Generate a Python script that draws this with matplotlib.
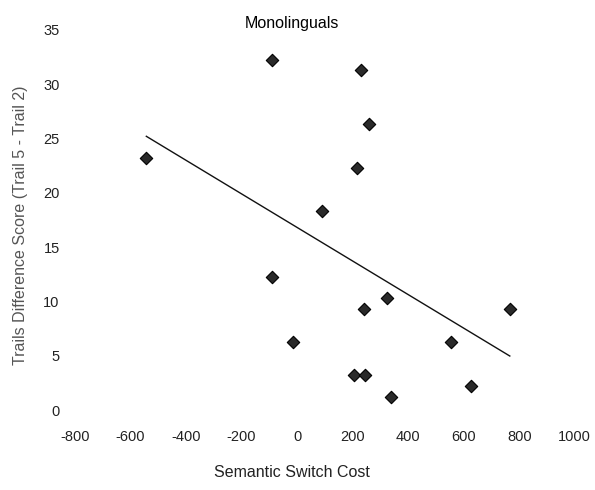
import matplotlib
matplotlib.use("Agg")
import matplotlib.pyplot as plt
import numpy as np

plt.rcParams["font.family"] = ["Liberation Sans", "DejaVu Sans"]

# Semantic switch cost vs. Trails difference score, one point per participant
switch_cost = [-543, -90, 230, 260, 215, 90, -90, -15, 325, 240,
               205, 245, 338, 554, 626, 766]
trails_diff = [23.2, 32.2, 31.3, 26.3, 22.3, 18.3, 12.3, 6.3, 10.3, 9.3,
               3.2, 3.2, 1.2, 6.3, 2.2, 9.3]

x_ticks = [-800, -600, -400, -200, 0, 200, 400, 600, 800, 1000]
y_ticks = [0, 5, 10, 15, 20, 25, 30, 35]

x = np.array(switch_cost, dtype=float)
y = np.array(trails_diff, dtype=float)
slope, intercept = np.polyfit(x, y, 1)
fit_x = np.array([x.min(), x.max()])

fig = plt.figure(figsize=(5.95, 4.9), dpi=100)
ax = fig.add_axes([0.126, 0.163, 0.840, 0.776])

ax.plot(fit_x, slope * fit_x + intercept, color="#111111", lw=1.0)
ax.scatter(x, y, marker="D", s=40, color="#2a2a2a", edgecolor="#000000",
           linewidth=0.8, zorder=3)

ax.set_xlim(-800, 1000)
ax.set_ylim(0, 35)
ax.set_xticks(x_ticks)
ax.set_yticks(y_ticks)
ax.set_xticklabels([str(v) for v in x_ticks])
ax.tick_params(length=0, labelsize=10.5, colors="#222222")
ax.tick_params(axis="x", pad=14)
ax.tick_params(axis="y", pad=11)
for s in ax.spines.values():
    s.set_visible(False)

fig.text(0.491, 0.953, "Monolinguals", ha="center", va="center", fontsize=11.5)
fig.text(0.491, 0.035, "Semantic Switch Cost", ha="center", va="center",
         fontsize=11.5, color="#222222")
fig.text(0.034, 0.54, "Trails Difference Score (Trail 5 - Trail 2)",
         rotation=90, ha="center", va="center", fontsize=11.5, color="#555555")

fig.savefig("out.png", dpi=100)
